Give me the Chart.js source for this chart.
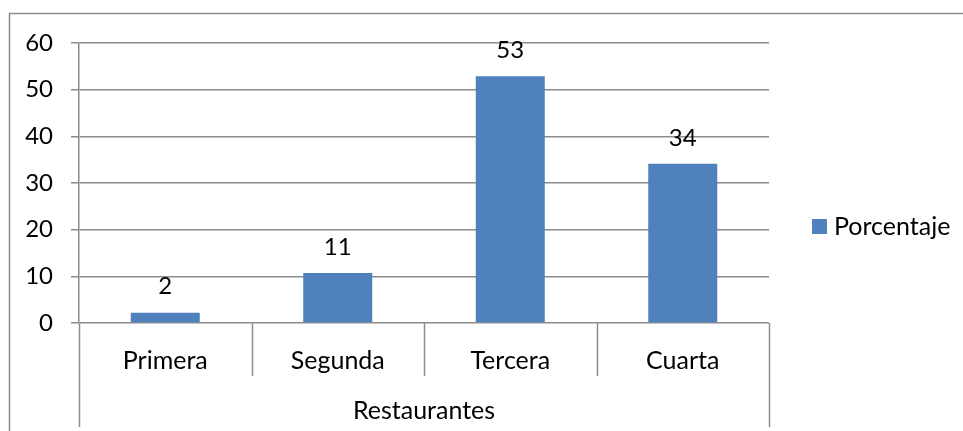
<!DOCTYPE html>
<html>
<head>
<meta charset="utf-8">
<script src="https://cdn.jsdelivr.net/npm/chart.js@4"></script>
<style>
  body { margin: 0; background: #fff; }
  canvas { display: block; }
</style>
</head>
<body>
<canvas id="myChart" width="963" height="431"></canvas>
<script>
// chart values
const categories = ['Primera', 'Segunda', 'Tercera', 'Cuarta'];
const porcentaje = [2.2, 10.7, 52.9, 34.1];
const yTicks = [0, 10, 20, 30, 40, 50, 60];
const seriesName = 'Porcentaje';
const axisTitle = 'Restaurantes';

const fontFamily = 'Lato, "Open Sans", sans-serif';
const lineColor = '#8c8c8c';
const barColor = '#4f81bd';

// frame, category separators, value labels and legend (excel look)
const excelBits = {
    id: 'excelBits',
    afterDraw(chart) {
        const ctx = chart.ctx;
        const area = chart.chartArea;
        const xs = chart.scales.x;
        ctx.save();

        ctx.strokeStyle = lineColor;
        ctx.lineWidth = 1.5;
        ctx.beginPath();
        ctx.moveTo(9.5, 431);
        ctx.lineTo(9.5, 13.5);
        ctx.lineTo(963, 13.5);
        ctx.stroke();

        const n = categories.length;
        for (let i = 0; i <= n; i++) {
            const x = Math.round(xs.left + i * xs.width / n) + 0.5;
            const end = (i === 0 || i === n) ? 427 : 376;
            ctx.beginPath();
            ctx.moveTo(x, area.bottom);
            ctx.lineTo(x, end);
            ctx.stroke();
        }

        ctx.fillStyle = '#000';
        ctx.font = '24px ' + fontFamily;
        ctx.textAlign = 'center';
        ctx.textBaseline = 'middle';
        const meta = chart.getDatasetMeta(0);
        meta.data.forEach((bar, i) => {
            ctx.fillText(Math.round(porcentaje[i]), bar.x, bar.y - 26);
        });

        const lx = area.right + 43;
        const ly = 227;
        ctx.fillStyle = barColor;
        ctx.fillRect(lx, ly - 8, 15, 15);
        ctx.fillStyle = '#000';
        ctx.textAlign = 'left';
        ctx.font = '25px ' + fontFamily;
        ctx.fillText(seriesName, lx + 22, ly);

        ctx.restore();
    }
};

const ctx = document.getElementById('myChart').getContext('2d');

const barChart = new Chart(ctx, {
    type: 'bar',
    data: {
        labels: categories,
        datasets: [{
            label: seriesName,
            data: porcentaje,
            backgroundColor: barColor,
            categoryPercentage: 1,
            barPercentage: 0.4
        }]
    },
    options: {
        responsive: false,
        animation: false,
        layout: {
            padding: { top: 43, right: 194, left: 0, bottom: 0 }
        },
        plugins: {
            legend: { display: false },
            tooltip: { enabled: false }
        },
        scales: {
            x: {
                grid: { display: false },
                border: { display: false },
                ticks: {
                    color: '#000',
                    padding: 15,
                    font: { family: fontFamily, size: 25 }
                },
                title: {
                    display: true,
                    text: axisTitle,
                    color: '#000',
                    padding: { top: 0, bottom: 5 },
                    font: { family: fontFamily, size: 25 }
                },
                afterFit(scale) {
                    scale.height = 108;
                }
            },
            y: {
                min: 0,
                max: 60,
                afterBuildTicks(scale) {
                    scale.ticks = yTicks.map(v => ({ value: v }));
                },
                grid: {
                    color: lineColor,
                    lineWidth: 1.5,
                    tickLength: 8
                },
                border: { color: lineColor, width: 1.5 },
                ticks: {
                    color: '#000',
                    padding: 18,
                    font: { family: fontFamily, size: 24 }
                },
                afterFit(scale) {
                    scale.width = 79;
                }
            }
        }
    },
    plugins: [excelBits]
});
</script>
</body>
</html>
